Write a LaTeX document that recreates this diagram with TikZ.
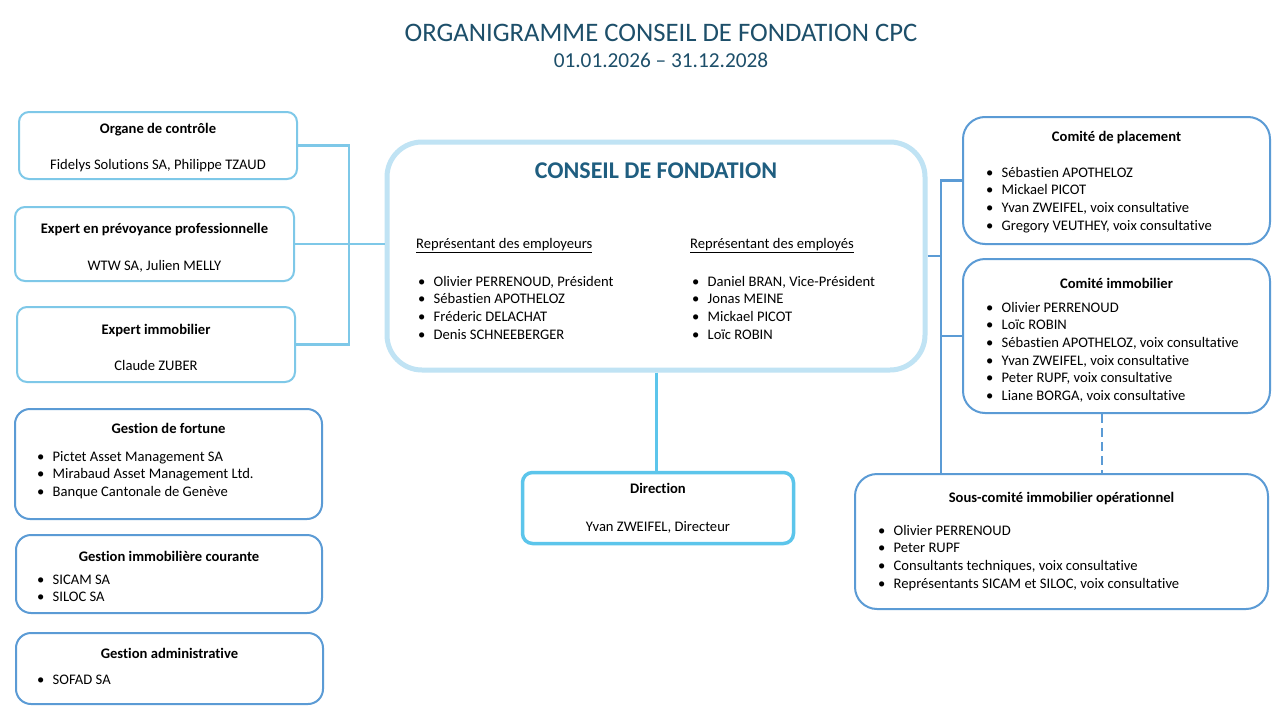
\documentclass[tikz,border=0pt]{standalone}
\usepackage{fontspec}
\setmainfont{Carlito}[Ligatures=NoCommon]
\usetikzlibrary{calc}
\definecolor{titlec}{HTML}{1D4F6A}
\definecolor{cfc}{HTML}{1F5E80}
\definecolor{lblue}{HTML}{7EC8E8}
\definecolor{cfborder}{HTML}{C0E3F4}
\definecolor{dirc}{HTML}{5CC5EB}
\definecolor{mblue}{HTML}{5B9BD5}
\newcommand\bul{\makebox[15.5pt][l]{\textbullet}}
\tikzset{
  box/.style={draw, rectangle, inner sep=0pt, fill=white},
  lbox/.style={box, draw=lblue, line width=2pt, rounded corners=10pt},
  gbox/.style={box, draw=mblue, line width=2pt, rounded corners=15pt},
  rbox/.style={box, draw=mblue, line width=2pt, rounded corners=22pt},
  cfbox/.style={box, draw=cfborder, line width=5pt, rounded corners=35pt},
  dirbox/.style={box, draw=dirc, line width=3.5pt, rounded corners=10pt},
  txt/.style={anchor=base, inner sep=0pt, font=\fontsize{14.6}{17.7}\selectfont},
  hd/.style={anchor=base, inner sep=0pt, font=\fontsize{14.6}{17.7}\selectfont\bfseries},
  itm/.style={anchor=base west, inner sep=0pt, font=\fontsize{14.6}{17.7}\selectfont},
  lconn/.style={draw=lblue, line width=2.2pt},
  rconn/.style={draw=mblue, line width=2.5pt},
  dconn/.style={draw=dirc, line width=3pt},
}
\begin{document}
\begin{tikzpicture}[x=1pt, y=-1pt]
\useasboundingbox[fill=white] (0,0) rectangle (1280,720);

% title
\node[anchor=base, inner sep=0pt, font=\fontsize{26.7}{30}\selectfont, text=titlec] (title) at (661,41) {ORGANIGRAMME CONSEIL DE FONDATION CPC};
\node[anchor=base, inner sep=0pt, font=\fontsize{21.3}{24}\selectfont, text=titlec] (date) at (661,67) {01.01.2026 -- 31.12.2028};

% coordinates of junctions
\coordinate (jl) at (349,246);
\coordinate (jr) at (941,256);

% boxes (geometry only)
\node[cfbox, minimum width=538pt, minimum height=228pt] (cf) at (656,256) {};
\node[lbox, minimum width=278pt, minimum height=67pt] (b1) at (158,145.5) {};
\node[lbox, minimum width=279pt, minimum height=74pt] (b2) at (154.5,244) {};
\node[lbox, minimum width=278pt, minimum height=75pt] (b3) at (156,344.5) {};
\node[gbox, minimum width=307pt, minimum height=110pt] (b4) at (168.5,464) {};
\node[gbox, minimum width=306pt, minimum height=78pt] (b5) at (169,574) {};
\node[gbox, minimum width=307pt, minimum height=71pt] (b6) at (169.5,668.5) {};
\node[dirbox, minimum width=271pt, minimum height=71pt] (dir) at (658,508) {};
\node[rbox, minimum width=307pt, minimum height=127pt] (cp) at (1116.5,180.5) {};
\node[rbox, minimum width=307pt, minimum height=154pt] (ci) at (1116.5,336) {};
\node[rbox, minimum width=413pt, minimum height=135pt] (sc) at (1061.5,541.5) {};

% connectors
\draw[lconn] (b1.east) -| (jl);
\draw[lconn] (b3.east) -| (jl);
\draw[lconn] (b2.east) -- (b2.east -| cf.west);
\draw[rconn] (cf.east) -- (jr);
\draw[rconn] (cp.west) -| (sc.north -| jr);
\draw[rconn] (ci.west) -- (ci.west -| jr);
\coordinate (dt) at ($(ci.south)+(-14.5,0)$);
\draw[rconn, dash pattern=on 9pt off 5pt] (dt) -- (dt |- sc.north);
\draw[dconn] (cf.south) -- (cf.south |- dir.north);

% left upper boxes text
\node[hd] (b1t) at (158,133) {Organe de contrôle};
\node[txt] (b1s) at (158,169) {Fidelys Solutions SA, Philippe TZAUD};
\node[hd] (b2t) at (154.5,233) {Expert en prévoyance professionnelle};
\node[txt] (b2s) at (154.5,270) {WTW SA, Julien MELLY};
\node[hd] (b3t) at (156,334) {Expert immobilier};
\node[txt] (b3s) at (156,370) {Claude ZUBER};

% left lower boxes text
\node[hd] (b4t) at (168.5,433) {Gestion de fortune};
\foreach \t [count=\i from 0] in {Pictet Asset Management SA, Mirabaud Asset Management Ltd., Banque Cantonale de Genève}
  \node[itm] (b4i\i) at (37,{461+17.7*\i}) {\bul\t};
\node[hd] (b5t) at (169,561) {Gestion immobilière courante};
\foreach \t [count=\i from 0] in {SICAM SA, SILOC SA}
  \node[itm] (b5i\i) at (37,{584+17.7*\i}) {\bul\t};
\node[hd] (b6t) at (169.5,658) {Gestion administrative};
\node[itm] (b6i0) at (37,684) {\bul SOFAD SA};

% conseil text
\node[anchor=base, inner sep=0pt, font=\fontsize{24}{27}\selectfont\bfseries, text=cfc] (cft) at (656,178) {CONSEIL DE FONDATION};
\node[itm] (cfl) at (416,248) {\underline{Représentant des employeurs}};
\foreach \t [count=\i from 0] in {{Olivier PERRENOUD, Président}, Sébastien APOTHELOZ, Fréderic DELACHAT, Denis SCHNEEBERGER}
  \node[itm] (cfl\i) at (418,{286+17.7*\i}) {\bul\t};
\node[itm] (cfr) at (690,248) {\underline{Représentant des employés}};
\foreach \t [count=\i from 0] in {{Daniel BRAN, Vice-Président}, Jonas MEINE, Mickael PICOT, Loïc ROBIN}
  \node[itm] (cfr\i) at (692,{286+17.7*\i}) {\bul\t};

% direction text
\node[hd] (dirt) at (658,493) {Direction};
\node[txt] (dirs) at (658,531) {Yvan ZWEIFEL, Directeur};

% right boxes text
\node[hd] (cpt) at (1116.5,141) {Comité de placement};
\foreach \t [count=\i from 0] in {Sébastien APOTHELOZ, Mickael PICOT, {Yvan ZWEIFEL, voix consultative}, {Gregory VEUTHEY, voix consultative}}
  \node[itm] (cpi\i) at (986,{177+17.7*\i}) {\bul\t};
\node[hd] (cit) at (1116.5,288) {Comité immobilier};
\foreach \t [count=\i from 0] in {Olivier PERRENOUD, Loïc ROBIN, {Sébastien APOTHELOZ, voix consultative}, {Yvan ZWEIFEL, voix consultative}, {Peter RUPF, voix consultative}, {Liane BORGA, voix consultative}}
  \node[itm] (cii\i) at (986,{312+17.7*\i}) {\bul\t};
\node[hd] (sct) at (1061.5,502) {Sous-comité immobilier opérationnel};
\foreach \t [count=\i from 0] in {Olivier PERRENOUD, Peter RUPF, {Consultants techniques, voix consultative}, {Représentants SICAM et SILOC, voix consultative}}
  \node[itm] (sci\i) at (878,{535+17.7*\i}) {\bul\t};
\end{tikzpicture}
\end{document}
